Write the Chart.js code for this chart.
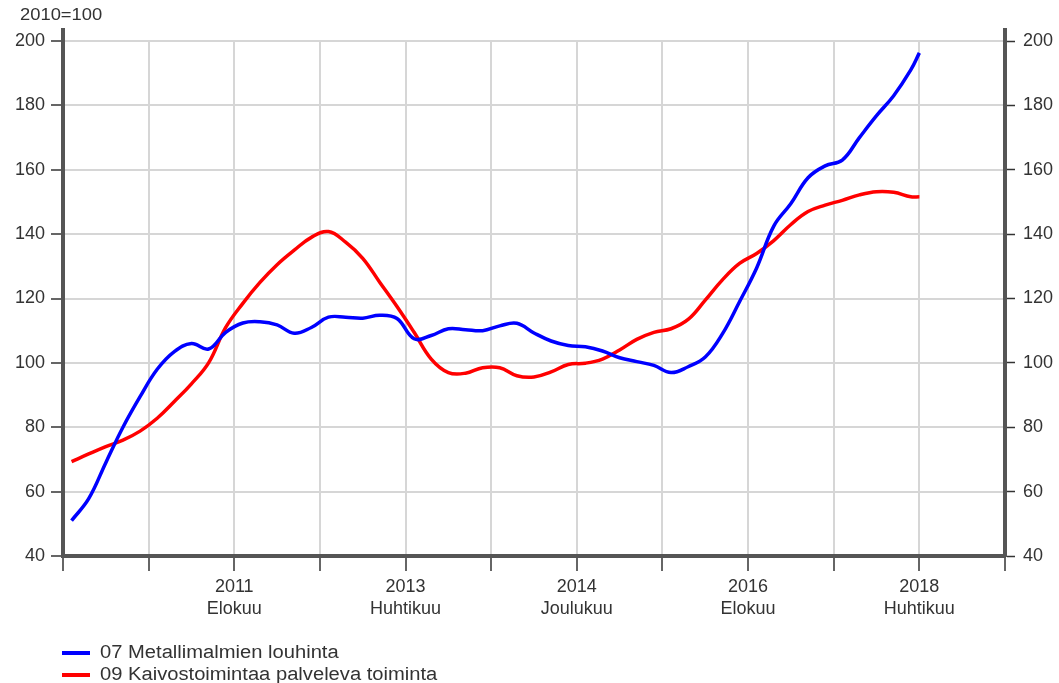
<!DOCTYPE html>
<html>
<head>
<meta charset="utf-8">
<script src="https://cdn.jsdelivr.net/npm/chart.js@4/dist/chart.umd.min.js"></script>
<style>
  body { margin: 0; background: #fff; font-family: "Liberation Sans", Arial, sans-serif; }
  #wrap { position: relative; width: 1059px; height: 683px; }
  #unit { position: absolute; left: 20px; top: 5px; font-size: 17px; color: #333; transform: scaleX(1.08); transform-origin: left; }
  .leg { position: absolute; left: 62px; font-size: 18px; color: #333; display: flex; align-items: center; }
  .leg span.sw { display: inline-block; width: 28px; height: 4px; margin-right: 10px; }
  .leg span.tx { display: inline-block; transform: scaleX(1.12); transform-origin: left; }
</style>
</head>
<body>
<div id="wrap">
  <canvas id="chart" width="1059" height="683"></canvas>
  <div id="unit">2010=100</div>
  <div class="leg" style="top:642px"><span class="sw" style="background:#0000ff"></span><span class="tx">07 Metallimalmien louhinta</span></div>
  <div class="leg" style="top:664px"><span class="sw" style="background:#ff0000"></span><span class="tx">09 Kaivostoimintaa palveleva toiminta</span></div>
</div>
<script>
// months shown on the axis, counted from 2009-12
const axisStart = "2009-12";
const axisEnd = "2019-02";
const tickMonths = ["2011-08", "2013-04", "2014-12", "2016-08", "2018-04"];
const tickYears = ["2011", "2013", "2014", "2016", "2018"];
const tickMonthNames = ["Elokuu", "Huhtikuu", "Joulukuu", "Elokuu", "Huhtikuu"];

// observation months (every second month, last one April 2018)
const months = [
  "2010-01", "2010-03", "2010-05", "2010-07", "2010-09", "2010-11",
  "2011-01", "2011-03", "2011-05", "2011-07", "2011-09", "2011-11",
  "2012-01", "2012-03", "2012-05", "2012-07", "2012-09", "2012-11",
  "2013-01", "2013-03", "2013-05", "2013-07", "2013-09", "2013-11",
  "2014-01", "2014-03", "2014-05", "2014-07", "2014-09", "2014-11",
  "2015-01", "2015-03", "2015-05", "2015-07", "2015-09", "2015-11",
  "2016-01", "2016-03", "2016-05", "2016-07", "2016-09", "2016-11",
  "2017-01", "2017-03", "2017-05", "2017-07", "2017-09", "2017-11",
  "2018-01", "2018-03", "2018-04"
];

const metallimalmit = [
  51, 57.8, 69, 80, 89.5, 98,
  103.5, 106, 104.3, 109.5, 112.4, 112.8,
  111.8, 109.2, 111, 114.2, 114.2, 113.9,
  114.8, 113.8, 107.5, 108.5, 110.6, 110.3,
  110, 111.5, 112.3, 109.3, 106.8, 105.4,
  105, 103.7, 101.6, 100.4, 99.2, 97,
  98.8, 101.8, 109, 119, 129.5, 142.5,
  149.5, 157.5, 161.2, 163, 170, 176.8,
  183, 191, 196.3
];

const palveleva = [
  69.3, 71.7, 74, 76, 78.8, 82.8,
  88, 93.5, 100, 111, 118.5, 125,
  130.5, 135, 139, 140.8, 137.5, 132.5,
  125, 117.5, 109.5, 101.2, 97, 96.8,
  98.5, 98.5, 96, 95.6, 97.2, 99.5,
  99.9, 101.2, 104, 107.3, 109.5, 110.6,
  113.5, 119.5, 125.8, 130.9, 134, 138,
  143, 147, 149, 150.5, 152.2, 153.2,
  153, 151.6, 151.6
];

function monthIndex(s) {
  const [y, m] = s.split("-").map(Number);
  const [y0, m0] = axisStart.split("-").map(Number);
  return (y - y0) * 12 + (m - m0);
}

const toPoints = vals => vals.map((v, i) => ({ x: monthIndex(months[i]), y: v }));

const font = { family: "'Liberation Sans', Arial, sans-serif", size: 18 };

// extends the side axis lines a little above the plot, like the original
const axisExtend = {
  id: "axisExtend",
  afterDraw(chart) {
    const { ctx, chartArea } = chart;
    ctx.save();
    ctx.strokeStyle = "#555";
    ctx.lineWidth = 4;
    ctx.beginPath();
    ctx.moveTo(chartArea.left, chartArea.top - 13);
    ctx.lineTo(chartArea.left, chartArea.top);
    ctx.moveTo(chartArea.right, chartArea.top - 13);
    ctx.lineTo(chartArea.right, chartArea.top);
    ctx.stroke();
    ctx.restore();
  }
};

new Chart(document.getElementById("chart"), {
  type: "line",
  data: {
    datasets: [
      {
        label: "07 Metallimalmien louhinta",
        data: toPoints(metallimalmit),
        borderColor: "#0000ff",
        borderWidth: 3.5,
        pointRadius: 0,
        tension: 0.4,
        yAxisID: "y"
      },
      {
        label: "09 Kaivostoimintaa palveleva toiminta",
        data: toPoints(palveleva),
        borderColor: "#ff0000",
        borderWidth: 3.5,
        pointRadius: 0,
        tension: 0.4,
        yAxisID: "y"
      }
    ]
  },
  options: {
    responsive: false,
    animation: false,
    layout: { padding: { top: 41, left: 0, right: 0, bottom: 57 } },
    plugins: { legend: { display: false }, tooltip: { enabled: false } },
    scales: {
      x: {
        type: "linear",
        min: 0,
        max: monthIndex(axisEnd),
        afterFit(scale) { scale.height = 70; },
        afterBuildTicks(scale) {
          const t = [];
          for (let v = 0; v <= monthIndex(axisEnd); v += 10) t.push({ value: v });
          scale.ticks = t;
        },
        ticks: {
          autoSkip: false,
          maxRotation: 0,
          color: "#333",
          padding: 6,
          font: { ...font, lineHeight: 1.17 },
          callback(v) {
            const i = tickMonths.findIndex(m => monthIndex(m) === v);
            return i < 0 ? "" : [tickYears[i], tickMonthNames[i]];
          }
        },
        grid: { color: "#d6d6d6", lineWidth: 2, tickColor: "#333", tickWidth: 1.5, tickLength: 15 },
        border: { color: "#555", width: 4 }
      },
      y: {
        position: "left",
        min: 40,
        max: 200,
        afterFit(scale) { scale.width = 63; },
        ticks: { stepSize: 20, color: "#333", padding: 6, font },
        grid: { color: "#d6d6d6", lineWidth: 2, tickColor: "#333", tickWidth: 1.5, tickLength: 12 },
        border: { color: "#555", width: 4 }
      },
      y2: {
        position: "right",
        min: 40,
        max: 200,
        afterFit(scale) { scale.width = 54; },
        ticks: { stepSize: 20, color: "#333", padding: 8, font },
        grid: { drawOnChartArea: false, tickColor: "#333", tickWidth: 1.5, tickLength: 10 },
        border: { color: "#555", width: 4 }
      }
    }
  },
  plugins: [axisExtend]
});
</script>
</body>
</html>
